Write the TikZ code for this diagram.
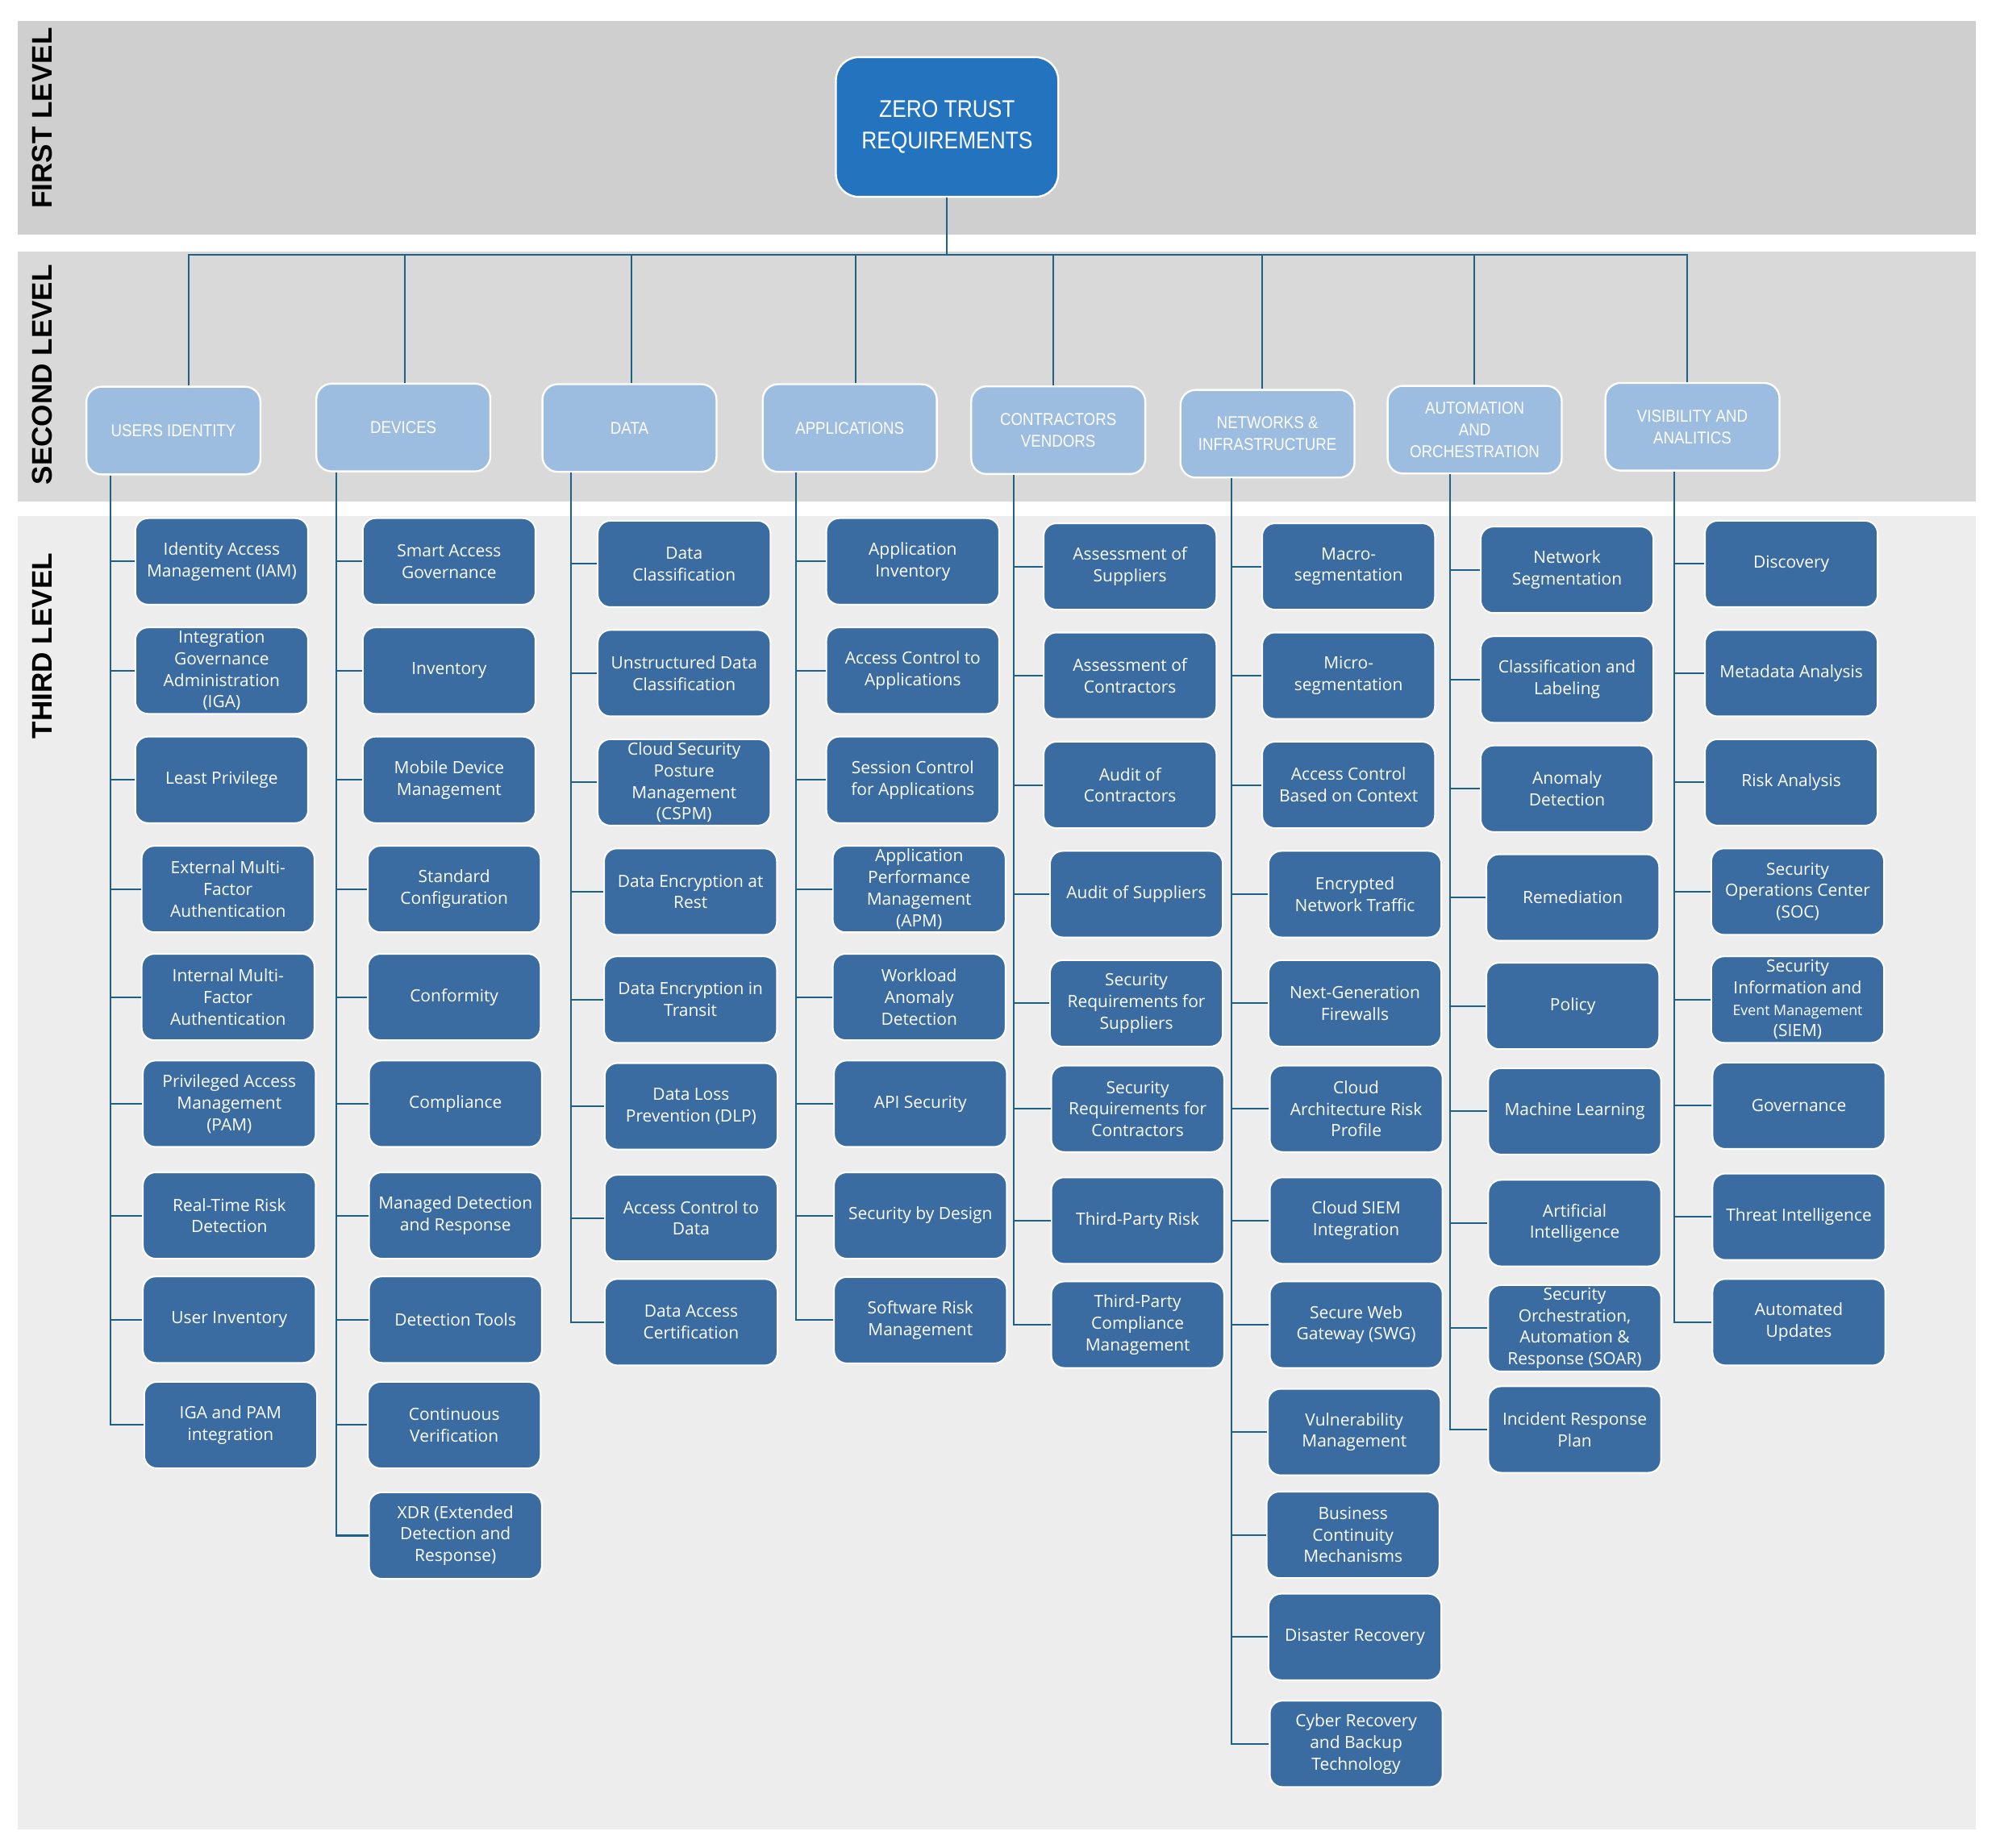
\documentclass[tikz,border=0pt]{standalone}
\usepackage{fontspec}
\setmainfont{Open Sans}
\newfontfamily\narrowf[FakeStretch=0.88]{Liberation Sans}
\newfontfamily\labelf{Liberation Sans}
\definecolor{bandA}{RGB}{207,207,207}
\definecolor{bandB}{RGB}{217,217,217}
\definecolor{bandC}{RGB}{237,237,237}
\definecolor{topblue}{RGB}{35,115,190}
\definecolor{catblue}{RGB}{156,189,224}
\definecolor{itemblue}{RGB}{58,108,161}
\definecolor{linecol}{RGB}{31,96,134}
\tikzset{
  lvl/.style={font=\labelf\bfseries\fontsize{22.3}{26}\selectfont, rotate=90, text=black, inner sep=0pt},
  topbox/.style={rectangle, rounded corners=18pt, fill=topblue, draw=white, line width=1.5pt,
    minimum width=175pt, minimum height=110pt, inner sep=0pt, text=white, align=center,
    font=\narrowf\fontsize{19}{24.5}\selectfont},
  catbox/.style={rectangle, rounded corners=12pt, fill=catblue, draw=white, line width=1.5pt,
    minimum width=137pt, minimum height=69pt, inner sep=0pt, text=white, align=center,
    font=\narrowf\fontsize{13.5}{17}\selectfont},
  item/.style={rectangle, rounded corners=10pt, fill=itemblue, draw=white, line width=1.3pt,
    minimum width=136pt, minimum height=68pt, inner sep=0pt, text=white, align=center,
    font=\fontsize{13.3}{17}\selectfont},
  conn/.style={draw=linecol, line width=1.3pt},
}
\begin{document}
\begin{tikzpicture}[x=1pt,y=-1pt]
\useasboundingbox (0,0) rectangle (1568,1454.4);
\fill[white] (0,0) rectangle (1568,1454.4);
% bands
\fill[bandA] (14,16.3) rectangle (1555,185);
\fill[bandB] (14,198) rectangle (1555,394.7);
\fill[bandC] (14,406.3) rectangle (1555,1440.5);
% level labels
\node[lvl] (l1) at (33,93) {FIRST LEVEL};
\node[lvl] (l2) at (33,295) {SECOND LEVEL};
\node[lvl] (l3) at (33,508.6) {THIRD LEVEL};
% top
\node[topbox] (zt) at (745.5,100) {ZERO TRUST\\REQUIREMENTS};
\coordinate (bus) at (745.5,200.8);
% categories
\node[catbox] (cu) at (136.5,339) {USERS IDENTITY};
\node[catbox] (cd) at (317.5,336.6) {DEVICES};
\node[catbox] (ct) at (495.5,337) {DATA};
\node[catbox] (cp) at (668.9,337) {APPLICATIONS};
\node[catbox] (cc) at (833,338.7) {CONTRACTORS\\VENDORS};
\node[catbox] (cn) at (997.7,341.5) {NETWORKS \&\\INFRASTRUCTURE};
\node[catbox] (ca) at (1160.8,338.3) {AUTOMATION\\AND\\ORCHESTRATION};
\node[catbox] (cv) at (1332.2,336) {VISIBILITY AND\\ANALITICS};
% first-to-second connectors
\draw[conn] (zt.south) -- (bus);
\draw[conn] ([xshift=12pt]cu.north) |- (bus);
\draw[conn] ([xshift=1pt]cd.north) |- (bus);
\draw[conn] ([xshift=1.7pt]ct.north) |- (bus);
\draw[conn] ([xshift=4.6pt]cp.north) |- (bus);
\draw[conn] ([xshift=-4.2pt]cc.north) |- (bus);
\draw[conn] ([xshift=-4.2pt]cn.north) |- (bus);
\draw[conn] ([xshift=-0.3pt]ca.north) |- (bus);
\draw[conn] ([xshift=-4.2pt]cv.north) |- (bus);
% spine start points
\coordinate (su) at ([xshift=-49.8pt]cu.south);
\coordinate (sd) at ([xshift=-52.7pt]cd.south);
\coordinate (st) at ([xshift=-45.9pt]ct.south);
\coordinate (sp) at ([xshift=-42.6pt]cp.south);
\coordinate (sc) at ([xshift=-34.8pt]cc.south);
\coordinate (sn) at ([xshift=-28.2pt]cn.south);
\coordinate (sa) at ([xshift=-19.6pt]ca.south);
\coordinate (sv) at ([xshift=-14.3pt]cv.south);
% users identity
\node[item] (u1) at (174.5,442) {Identity Access\\Management (IAM)};
\node[item] (u2) at (174.5,528) {Integration\\Governance\\Administration\\(IGA)};
\node[item] (u3) at (174.5,614) {Least Privilege};
\node[item] (u4) at (179.5,700) {External Multi-\\Factor\\Authentication};
\node[item] (u5) at (179.5,785) {Internal Multi-\\Factor\\Authentication};
\node[item] (u6) at (180.5,869) {Privileged Access\\Management\\(PAM)};
\node[item] (u7) at (180.5,957) {Real-Time Risk\\Detection};
\node[item] (u8) at (180.5,1039) {User Inventory};
\node[item] (u9) at (181.5,1122) {IGA and PAM\\integration};
% devices
\node[item] (d1) at (353.5,442) {Smart Access\\Governance};
\node[item] (d2) at (353.5,528) {Inventory};
\node[item] (d3) at (353.5,614) {Mobile Device\\Management};
\node[item] (d4) at (357.5,700) {Standard\\Configuration};
\node[item] (d5) at (357.5,785) {Conformity};
\node[item] (d6) at (358.5,869) {Compliance};
\node[item] (d7) at (358.5,957) {Managed Detection\\and Response};
\node[item] (d8) at (358.5,1039) {Detection Tools};
\node[item] (d9) at (357.5,1122) {Continuous\\Verification};
\node[item] (d10) at (358.5,1209) {XDR (Extended\\Detection and\\Response)};
% data
\node[item] (t1) at (538.5,444) {Data\\Classification};
\node[item] (t2) at (538.5,530) {Unstructured Data\\Classification};
\node[item] (t3) at (538.5,616) {Cloud Security\\Posture\\Management\\(CSPM)};
\node[item] (t4) at (543.5,702) {Data Encryption at\\Rest};
\node[item] (t5) at (543.5,787) {Data Encryption in\\Transit};
\node[item] (t6) at (544,871) {Data Loss\\Prevention (DLP)};
\node[item] (t7) at (544,959) {Access Control to\\Data};
\node[item] (t8) at (544,1041) {Data Access\\Certification};
% applications
\node[item] (p1) at (718.5,442) {Application\\Inventory};
\node[item] (p2) at (718.5,528) {Access Control to\\Applications};
\node[item] (p3) at (718.5,614) {Session Control\\for Applications};
\node[item] (p4) at (723.5,700) {Application\\Performance\\Management\\(APM)};
\node[item] (p5) at (723.5,785) {Workload\\Anomaly\\Detection};
\node[item] (p6) at (724.5,869) {API Security};
\node[item] (p7) at (724.5,957) {Security by Design};
\node[item] (p8) at (724.5,1039.4) {Software Risk\\Management};
% contractors
\node[item] (c1) at (889.5,446) {Assessment of\\Suppliers};
\node[item] (c2) at (889.5,532) {Assessment of\\Contractors};
\node[item] (c3) at (889.5,618) {Audit of\\Contractors};
\node[item] (c4) at (894.5,704) {Audit of Suppliers};
\node[item] (c5) at (894.5,790) {Security\\Requirements for\\Suppliers};
\node[item] (c6) at (895.5,873) {Security\\Requirements for\\Contractors};
\node[item] (c7) at (895.5,961) {Third-Party Risk};
\node[item] (c8) at (895.5,1043) {Third-Party\\Compliance\\Management};
% networks
\node[item] (n1) at (1061.5,446) {Macro-\\segmentation};
\node[item] (n2) at (1061.5,532) {Micro-\\segmentation};
\node[item] (n3) at (1061.5,618) {Access Control\\Based on Context};
\node[item] (n4) at (1066.5,704) {Encrypted\\Network Traffic};
\node[item] (n5) at (1066.5,790) {Next-Generation\\Firewalls};
\node[item] (n6) at (1067.5,873) {Cloud\\Architecture Risk\\Profile};
\node[item] (n7) at (1067.5,961) {Cloud SIEM\\Integration};
\node[item] (n8) at (1067.5,1043) {Secure Web\\Gateway (SWG)};
\node[item] (n9) at (1066,1127.5) {Vulnerability\\Management};
\node[item] (n10) at (1065,1208.4) {Business\\Continuity\\Mechanisms};
\node[item] (n11) at (1066.5,1288.8) {Disaster Recovery};
\node[item] (n12) at (1067.5,1373) {Cyber Recovery\\and Backup\\Technology};
% automation
\node[item] (o1) at (1233.5,448.6) {Network\\Segmentation};
\node[item] (o2) at (1233.5,535) {Classification and\\Labeling};
\node[item] (o3) at (1233.5,621) {Anomaly\\Detection};
\node[item] (o4) at (1238,706.6) {Remediation};
\node[item] (o5) at (1238,792) {Policy};
\node[item] (o6) at (1239.5,875) {Machine Learning};
\node[item] (o7) at (1239.5,963) {Artificial\\Intelligence};
\node[item] (o8) at (1239.5,1045.8) {Security\\Orchestration,\\Automation \&\\Response (SOAR)};
\node[item] (o9) at (1239.5,1125.5) {Incident Response\\Plan};
% visibility
\node[item] (v1) at (1410,444) {Discovery};
\node[item] (v2) at (1410,530) {Metadata Analysis};
\node[item] (v3) at (1410,616) {Risk Analysis};
\node[item] (v4) at (1415,702) {Security\\Operations Center\\(SOC)};
\node[item] (v5) at (1415,787) {Security\\Information and\\{\fontsize{11.3}{17}\selectfont Event Management}\\(SIEM)};
\node[item] (v6) at (1416,870.6) {Governance};
\node[item] (v7) at (1416,958) {Threat Intelligence};
\node[item] (v8) at (1416,1041) {Automated\\Updates};
% spines and ticks
\foreach \i in {1,...,8} \draw[conn] (u\i.west) -- (u\i.west -| su);
\draw[conn] (su) |- (u9.west);
\foreach \i in {1,...,9} \draw[conn] (d\i.west) -- (d\i.west -| sd);
\draw[conn] (sd) |- (d10.west);
\foreach \i in {1,...,7} \draw[conn] (t\i.west) -- (t\i.west -| st);
\draw[conn] (st) |- (t8.west);
\foreach \i in {1,...,7} \draw[conn] (p\i.west) -- (p\i.west -| sp);
\draw[conn] (sp) |- (p8.west);
\foreach \i in {1,...,7} \draw[conn] (c\i.west) -- (c\i.west -| sc);
\draw[conn] (sc) |- (c8.west);
\foreach \i in {1,...,11} \draw[conn] (n\i.west) -- (n\i.west -| sn);
\draw[conn] (sn) |- (n12.west);
\foreach \i in {1,...,8} \draw[conn] (o\i.west) -- (o\i.west -| sa);
\draw[conn] (sa) |- (o9.west);
\foreach \i in {1,...,7} \draw[conn] (v\i.west) -- (v\i.west -| sv);
\draw[conn] (sv) |- (v8.west);
\end{tikzpicture}
\end{document}
